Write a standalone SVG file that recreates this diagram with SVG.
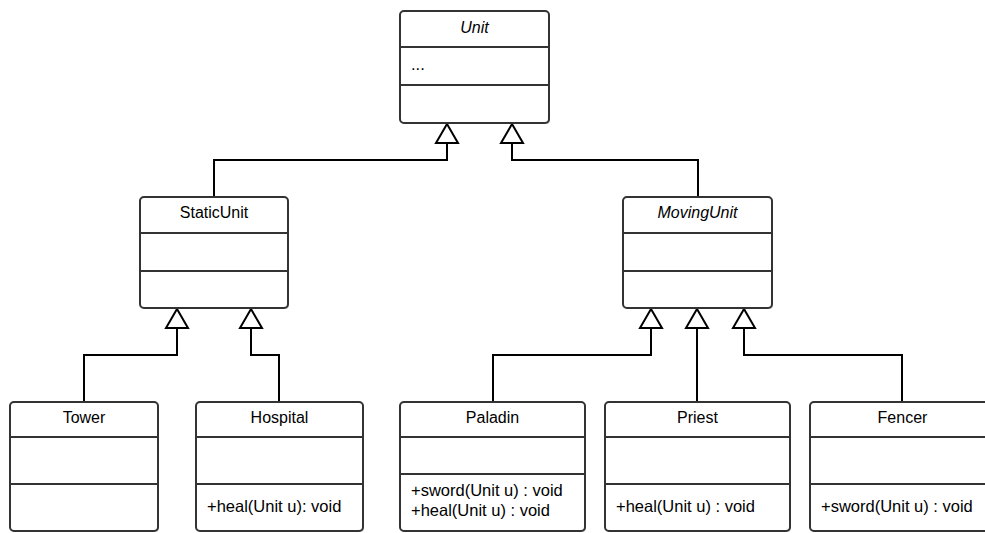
<svg xmlns="http://www.w3.org/2000/svg" width="985" height="533" viewBox="0 0 985 533">
<style>
.box{fill:#fff;stroke:#333;stroke-width:2}
.sh{fill:#bbb;stroke:none}
.div{stroke:#333;stroke-width:2}
.t{font-family:"Liberation Sans",Arial,sans-serif;font-size:16px;fill:#000;text-anchor:middle}
.m{font-family:"Liberation Sans",Arial,sans-serif;font-size:16.5px;fill:#000}
.it{font-style:italic}
.ln{fill:none;stroke:#000;stroke-width:2}
.ar{fill:#fff;stroke:#000;stroke-width:2;stroke-linejoin:miter}
</style>
<rect width="985" height="533" fill="#fff"/>
<g id="connectors">
<polyline class="ln" points="214,197 214,160 447,160 447,143"/>
<polygon class="ar" points="447,124 436,143 458,143"/>
<polyline class="ln" points="698,197 698,160 512,160 512,143"/>
<polygon class="ar" points="512,124 501,143 523,143"/>
<polyline class="ln" points="84,402 84,355 177,355 177,328"/>
<polygon class="ar" points="177,309 166,328 188,328"/>
<polyline class="ln" points="279,402 279,355 251,355 251,328"/>
<polygon class="ar" points="251,309 240,328 262,328"/>
<polyline class="ln" points="493,402 493,355 651,355 651,328"/>
<polygon class="ar" points="651,309 640,328 662,328"/>
<polyline class="ln" points="697,402 697,328"/>
<polygon class="ar" points="697,309 686,328 708,328"/>
<polyline class="ln" points="902,402 902,355 744,355 744,328"/>
<polygon class="ar" points="744,309 733,328 755,328"/>
</g>
<g id="unit">
<rect class="sh" x="401" y="12" width="149" height="112" rx="4"/>
<rect class="box" x="400" y="11" width="149" height="112" rx="4"/>
<line class="div" x1="400" y1="47" x2="549" y2="47"/>
<line class="div" x1="400" y1="85" x2="549" y2="85"/>
<text class="t it" x="474.5" y="33">Unit</text>
<text class="m" x="411" y="70">...</text>
</g>
<g id="staticunit">
<rect class="sh" x="141" y="198" width="148" height="111" rx="4"/>
<rect class="box" x="140" y="197" width="148" height="111" rx="4"/>
<line class="div" x1="140" y1="233" x2="288" y2="233"/>
<line class="div" x1="140" y1="271" x2="288" y2="271"/>
<text class="t" x="214" y="218">StaticUnit</text>
</g>
<g id="movingunit">
<rect class="sh" x="624" y="198" width="149" height="111" rx="4"/>
<rect class="box" x="623" y="197" width="149" height="111" rx="4"/>
<line class="div" x1="623" y1="233" x2="772" y2="233"/>
<line class="div" x1="623" y1="271" x2="772" y2="271"/>
<text class="t it" x="697.5" y="218">MovingUnit</text>
</g>
<g id="tower">
<rect class="sh" x="11" y="403" width="148" height="129" rx="4"/>
<rect class="box" x="10" y="402" width="148" height="129" rx="4"/>
<line class="div" x1="10" y1="437" x2="158" y2="437"/>
<line class="div" x1="10" y1="484" x2="158" y2="484"/>
<text class="t" x="84" y="423">Tower</text>
</g>
<g id="hospital">
<rect class="sh" x="197" y="403" width="167" height="129" rx="4"/>
<rect class="box" x="196" y="402" width="167" height="129" rx="4"/>
<line class="div" x1="196" y1="437" x2="363" y2="437"/>
<line class="div" x1="196" y1="484" x2="363" y2="484"/>
<text class="t" x="279.5" y="423">Hospital</text>
<text class="m" x="207" y="512">+heal(Unit u): void</text>
</g>
<g id="paladin">
<rect class="sh" x="401" y="403" width="185" height="129" rx="4"/>
<rect class="box" x="400" y="402" width="185" height="129" rx="4"/>
<line class="div" x1="400" y1="437" x2="585" y2="437"/>
<line class="div" x1="400" y1="474" x2="585" y2="474"/>
<text class="t" x="492.5" y="423">Paladin</text>
<text class="m" x="411" y="496">+sword(Unit u) : void</text>
<text class="m" x="411" y="516">+heal(Unit u) : void</text>
</g>
<g id="priest">
<rect class="sh" x="606" y="403" width="185" height="129" rx="4"/>
<rect class="box" x="605" y="402" width="185" height="129" rx="4"/>
<line class="div" x1="605" y1="437" x2="790" y2="437"/>
<line class="div" x1="605" y1="484" x2="790" y2="484"/>
<text class="t" x="697.5" y="423">Priest</text>
<text class="m" x="616" y="512">+heal(Unit u) : void</text>
</g>
<g id="fencer">
<rect class="sh" x="811" y="403" width="185" height="129" rx="4"/>
<rect class="box" x="810" y="402" width="185" height="129" rx="4"/>
<line class="div" x1="810" y1="437" x2="995" y2="437"/>
<line class="div" x1="810" y1="484" x2="995" y2="484"/>
<text class="t" x="902.5" y="423">Fencer</text>
<text class="m" x="821" y="512">+sword(Unit u) : void</text>
</g>
</svg>
